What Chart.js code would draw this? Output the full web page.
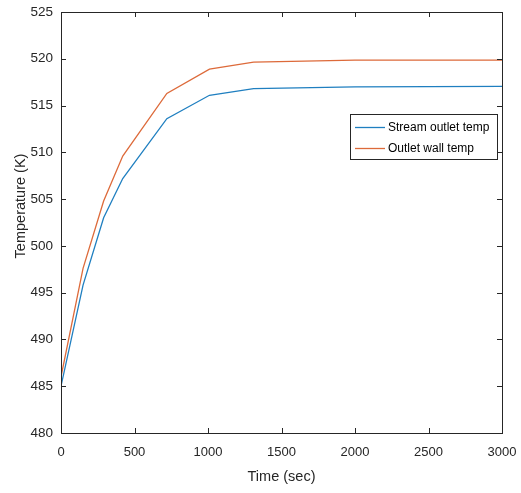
<!DOCTYPE html>
<html>
<head>
<meta charset="utf-8">
<script src="https://cdn.jsdelivr.net/npm/chart.js@4.4.0/dist/chart.umd.min.js"></script>
<style>
html, body { margin: 0; padding: 0; background: #fff; }
#wrap { width: 521px; height: 493px; }
</style>
</head>
<body>
<div id="wrap"><canvas id="myChart" width="521" height="493"></canvas></div>
<script>
// datos
const timeSec = [0, 150, 290, 420, 720, 1010, 1310, 2000, 3000];
const streamOutlet = [485.0, 495.8, 503.0, 507.2, 513.6, 516.1, 516.8, 517.0, 517.05];
const outletWall = [486.0, 497.6, 504.8, 509.6, 516.3, 518.9, 519.65, 519.85, 519.85];
const seriesNames = ["Stream outlet temp", "Outlet wall temp"];
const xTicks = [0, 500, 1000, 1500, 2000, 2500, 3000];
const yTicks = [480, 485, 490, 495, 500, 505, 510, 515, 520, 525];

const axisColor = "#262626";
const fontName = "'Liberation Sans', Arial, sans-serif";

const toPoints = (vals) => timeSec.map((t, i) => ({ x: t, y: vals[i] }));

// caja, ticks hacia adentro, titulo Y y leyenda estilo MATLAB
const boxPlugin = {
    id: "box",
    afterDatasetsDraw(chart) {
        const { ctx, chartArea: a, scales } = chart;
        const x = scales.x, y = scales.y;
        ctx.save();
        ctx.strokeStyle = axisColor;
        ctx.lineWidth = 1;
        ctx.strokeRect(a.left + 0.5, a.top + 0.5, a.right - a.left, a.bottom - a.top);
        const tl = 5;
        ctx.beginPath();
        xTicks.forEach(v => {
            const px = Math.round(x.getPixelForValue(v)) + 0.5;
            ctx.moveTo(px, a.bottom); ctx.lineTo(px, a.bottom - tl);
            ctx.moveTo(px, a.top); ctx.lineTo(px, a.top + tl);
        });
        yTicks.forEach(v => {
            const py = Math.round(y.getPixelForValue(v)) + 0.5;
            ctx.moveTo(a.left, py); ctx.lineTo(a.left + tl, py);
            ctx.moveTo(a.right, py); ctx.lineTo(a.right - tl, py);
        });
        ctx.stroke();

        // titulo eje Y (un poco arriba del centro como en el original)
        ctx.save();
        ctx.translate(21, 206);
        ctx.rotate(-Math.PI / 2);
        ctx.font = "14.5px " + fontName;
        ctx.fillStyle = axisColor;
        ctx.textAlign = "center";
        ctx.textBaseline = "middle";
        ctx.fillText("Temperature (K)", 0, 0);
        ctx.restore();

        // leyenda
        const lx = 350, ly = 114, lw = 147, lh = 45;
        ctx.fillStyle = "#fff";
        ctx.fillRect(lx, ly, lw, lh);
        ctx.strokeStyle = axisColor;
        ctx.lineWidth = 1;
        ctx.strokeRect(lx + 0.5, ly + 0.5, lw, lh);
        ctx.font = "12px " + fontName;
        ctx.textBaseline = "middle";
        chart.data.datasets.forEach((ds, i) => {
            const cy = ly + 13.5 + i * 21;
            ctx.strokeStyle = ds.borderColor;
            ctx.lineWidth = 1.3;
            ctx.beginPath();
            ctx.moveTo(lx + 5, cy); ctx.lineTo(lx + 35, cy);
            ctx.stroke();
            ctx.fillStyle = "#000";
            ctx.fillText(ds.label, lx + 38, cy);
        });
        ctx.restore();
    }
};

const ctx = document.getElementById("myChart").getContext("2d");

const chart = new Chart(ctx, {
    type: "line",
    data: {
        datasets: [
            {
                label: seriesNames[0],
                data: toPoints(streamOutlet),
                borderColor: "#1f7fc0",
                borderWidth: 1.3,
                pointRadius: 0,
                tension: 0,
                fill: false
            },
            {
                label: seriesNames[1],
                data: toPoints(outletWall),
                borderColor: "#dd6a3a",
                borderWidth: 1.3,
                pointRadius: 0,
                tension: 0,
                fill: false
            }
        ]
    },
    options: {
        responsive: false,
        animation: false,
        devicePixelRatio: 1,
        layout: { padding: { top: 12, right: 19, left: 0, bottom: 0 } },
        plugins: {
            legend: { display: false },
            tooltip: { enabled: false }
        },
        scales: {
            x: {
                type: "linear",
                min: 0,
                max: 3000,
                afterBuildTicks: s => { s.ticks = xTicks.map(v => ({ value: v })); },
                afterFit: s => {
                    s.height = 60;
                    s.paddingLeft = 0;
                    s.paddingRight = 0;
                },
                grid: { display: false, drawTicks: false },
                border: { display: false },
                ticks: {
                    color: axisColor,
                    padding: 12,
                    maxRotation: 0,
                    autoSkip: false,
                    callback: v => String(v),
                    font: { family: fontName, size: 13 }
                },
                title: {
                    display: true,
                    text: "Time (sec)",
                    color: axisColor,
                    padding: { top: 2, bottom: 7 },
                    font: { family: fontName, size: 14.5 }
                }
            },
            y: {
                type: "linear",
                min: 480,
                max: 525,
                afterBuildTicks: s => { s.ticks = yTicks.map(v => ({ value: v })); },
                afterFit: s => {
                    s.width = 61;
                    s.paddingTop = 0;
                    s.paddingBottom = 0;
                },
                grid: { display: false, drawTicks: false },
                border: { display: false },
                ticks: {
                    color: axisColor,
                    padding: 8,
                    autoSkip: false,
                    callback: v => String(v),
                    font: { family: fontName, size: 13.5 }
                }
            }
        }
    },
    plugins: [boxPlugin]
});
</script>
</body>
</html>
